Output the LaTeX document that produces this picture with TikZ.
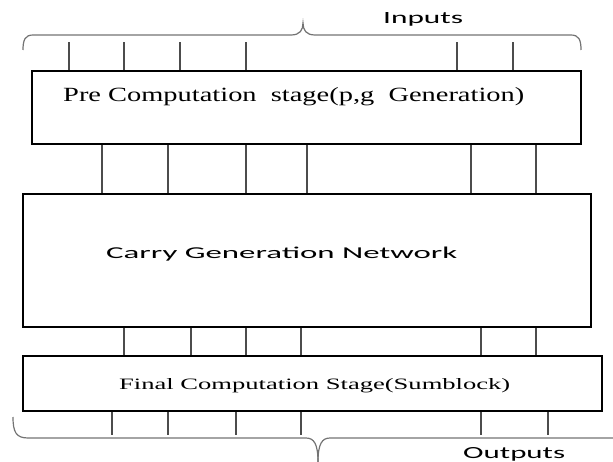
\documentclass[tikz,border=0pt]{standalone}
\usepackage{fontspec}
\setmainfont{Liberation Serif}
\newfontfamily\labelfont{Carlito}
\usepackage{graphicx}

\tikzset{
  stagebox/.style={draw=black, line width=2.2pt, fill=white, inner sep=0pt},
  wire/.style={draw=black!70, line width=1.3pt},
  brace/.style={draw=black!55, line width=1.2pt},
  txt/.style={anchor=base west, inner sep=0pt},
}

\begin{document}
\begin{tikzpicture}[x=1pt, y=-1pt]
    \useasboundingbox (0,0) rectangle (613,462);

    % the three stages
    \node[stagebox, minimum width=549pt, minimum height=73pt] (pre) at (306.5,107.5) {};
    \node[stagebox, minimum width=568pt, minimum height=133pt] (cgn) at (307,260.5) {};
    \node[stagebox, minimum width=579pt, minimum height=55pt] (fin) at (312.5,383.5) {};

    \node[txt] (pretext) at (63,102) {\resizebox{461pt}{14pt}{Pre Computation\ \ stage(p,g\ \ Generation)}};
    \node[txt] (cgntext) at (106,259) {\labelfont\resizebox{351pt}{11.5pt}{Carry Generation Network}};
    \node[txt] (fintext) at (119,389) {\resizebox{391pt}{11pt}{Final Computation Stage(Sumblock)}};

    % wires
    \foreach \x in {69,124,180,246,457,513}
        \draw[wire] (pre.north -| \x,0) -- ++(0,-28);
    \foreach \x in {102,168,246,307,471,536}
        \draw[wire] (pre.south -| \x,0) -- (cgn.north -| \x,0);
    \foreach \x in {124,191,246,301,481,536}
        \draw[wire] (cgn.south -| \x,0) -- (fin.north -| \x,0);
    \foreach \x in {112,168,236,301,481,548}
        \draw[wire] (fin.south -| \x,0) -- ++(0,23);

    % braces
    \draw[brace] (23,50) .. controls (23,40) and (25,35) .. (33,35) -- (291,35)
        .. controls (300,35) and (303,30) .. (303,23)
        .. controls (303,30) and (306,35) .. (315,35) -- (571,35)
        .. controls (579,35) and (581,40) .. (581,50);
    \draw[brace] (13,417) .. controls (13,432) and (16,438) .. (28,438) -- (306,438)
        .. controls (314,438) and (318,444) .. (318,462);
    \draw[brace] (613,438) -- (330,438)
        .. controls (322,438) and (318,444) .. (318,462);

    \node[txt] (inp) at (383,24) {\labelfont\resizebox{80pt}{11pt}{Inputs}};
    \node[txt] (outp) at (463,458) {\labelfont\resizebox{102pt}{11pt}{Outputs}};
\end{tikzpicture}
\end{document}
